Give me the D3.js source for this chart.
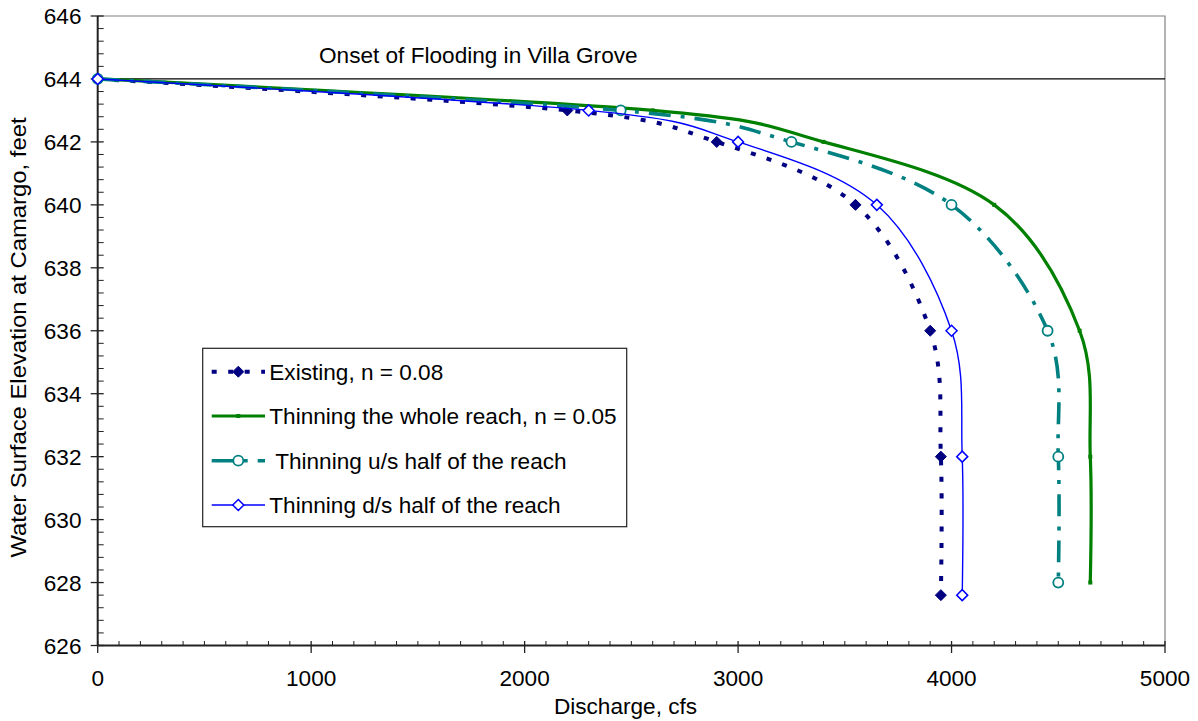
<!DOCTYPE html>
<html>
<head>
<meta charset="utf-8">
<script src="https://cdn.jsdelivr.net/npm/d3@7/dist/d3.min.js"></script>
<style>
  html, body { margin: 0; padding: 0; background: #fff; }
  svg { display: block; font-family: "Liberation Sans", Arial, sans-serif; }
</style>
</head>
<body>
<svg id="chart" width="1198" height="721"></svg>
<script>
// Rating curves: water surface elevation at Camargo (ft) vs. discharge (cfs)
const seriesNames = [
  "Existing, n = 0.08",
  "Thinning the whole reach, n = 0.05",
  " Thinning u/s half of the reach",
  "Thinning d/s half of the reach"
];
const qExisting = [0, 2200, 2900, 3550, 3900, 3950, 3950];
const elevExisting = [644, 643, 642, 640, 636, 632, 627.6];
const qWhole = [0, 2600, 3400, 4200, 4600, 4650, 4650];
const elevWhole = [644, 643, 642, 640, 636, 632, 628];
const qUpstream = [0, 2450, 3250, 4000, 4450, 4500, 4500];
const elevUpstream = [644, 643, 642, 640, 636, 632, 628];
const qDownstream = [0, 2300, 3000, 3650, 4000, 4050, 4050];
const elevDownstream = [644, 643, 642, 640, 636, 632, 627.6];

const floodElevation = 644;
const floodLabel = "Onset of Flooding in Villa Grove";
const xTicks = [0, 1000, 2000, 3000, 4000, 5000];
const yTicks = [626, 628, 630, 632, 634, 636, 638, 640, 642, 644, 646];
const xTitle = "Discharge, cfs";
const yTitle = "Water Surface Elevation at Camargo, feet";

const plotLeft = 97.7, plotRight = 1165, plotTop = 16, plotBottom = 645.5;
const x = d3.scaleLinear().domain([0, 5000]).range([plotLeft, plotRight]);
const y = d3.scaleLinear().domain([626, 646]).range([plotBottom, plotTop]);

const svg = d3.select("#chart");
const font = 22.6;

// plot frame: grey top/right border
svg.append("path")
  .attr("d", `M${plotLeft},${plotTop}H${plotRight}V${plotBottom}`)
  .attr("fill", "none").attr("stroke", "#808080").attr("stroke-width", 1.2);

// flooding threshold
svg.append("line")
  .attr("x1", x(0)).attr("x2", x(5000))
  .attr("y1", y(floodElevation)).attr("y2", y(floodElevation))
  .attr("stroke", "#000").attr("stroke-width", 1.2);
svg.append("text")
  .attr("x", 478.3).attr("y", y(floodElevation) - 16)
  .attr("text-anchor", "middle").attr("font-size", font)
  .text(floodLabel);

// axes
const xMinor = d3.range(0, 5001, 100).filter(v => v % 1000 !== 0);
const yMinor = d3.range(626, 646.01, 0.4).filter(v => Math.abs((v - 626) / 2 - Math.round((v - 626) / 2)) > 0.01);

const axes = svg.append("g").attr("stroke", "#222");
axes.selectAll(".xminor").data(xMinor).join("line")
  .attr("x1", d => x(d)).attr("x2", d => x(d))
  .attr("y1", plotBottom).attr("y2", plotBottom - 4.5).attr("stroke-width", 1);
axes.selectAll(".xmajor").data(xTicks).join("line")
  .attr("x1", d => x(d)).attr("x2", d => x(d))
  .attr("y1", plotBottom - 4.5).attr("y2", plotBottom + 7.5).attr("stroke-width", 1.3);
axes.selectAll(".yminor").data(yMinor).join("line")
  .attr("x1", plotLeft).attr("x2", plotLeft + 6)
  .attr("y1", d => y(d)).attr("y2", d => y(d)).attr("stroke-width", 1);
axes.selectAll(".ymajor").data(yTicks).join("line")
  .attr("x1", plotLeft - 7).attr("x2", plotLeft + 6)
  .attr("y1", d => y(d)).attr("y2", d => y(d)).attr("stroke-width", 1.3);
axes.append("line").attr("x1", plotLeft).attr("x2", plotRight).attr("y1", plotBottom).attr("y2", plotBottom).attr("stroke-width", 2);
axes.append("line").attr("x1", plotLeft).attr("x2", plotLeft).attr("y1", plotTop).attr("y2", plotBottom).attr("stroke-width", 2);

svg.selectAll(".xlab").data(xTicks).join("text")
  .attr("x", d => x(d)).attr("y", 686)
  .attr("text-anchor", "middle").attr("font-size", font).text(d => d);
svg.selectAll(".ylab").data(yTicks).join("text")
  .attr("x", 81.5).attr("y", d => y(d) + 8)
  .attr("text-anchor", "end").attr("font-size", font).text(d => d);

svg.append("text").attr("x", 625.5).attr("y", 714)
  .attr("text-anchor", "middle").attr("font-size", font).text(xTitle);
svg.append("text")
  .attr("transform", "translate(26,337.5) rotate(-90)")
  .attr("text-anchor", "middle").attr("font-size", font)
  .attr("textLength", 440).attr("lengthAdjust", "spacingAndGlyphs")
  .text(yTitle);

// series definitions
const series = [
  { name: seriesNames[0], q: qExisting, e: elevExisting, color: "#000080", width: 4, dash: "5,11.5", marker: "diamondFilled" },
  { name: seriesNames[1], q: qWhole, e: elevWhole, color: "#008000", width: 3.2, dash: null, marker: "square" },
  { name: seriesNames[2], q: qUpstream, e: elevUpstream, color: "#008080", width: 3.6, dash: "22,10,4,10", marker: "circle" },
  { name: seriesNames[3], q: qDownstream, e: elevDownstream, color: "#0000FF", width: 1.4, dash: null, marker: "diamondOpen" }
];

const line = d3.line().curve(d3.curveCardinal.tension(0));

function drawMarker(g, kind, color, cx, cy) {
  if (kind === "diamondFilled") {
    g.append("path").attr("d", `M${cx},${cy - 5.5}L${cx + 5.5},${cy}L${cx},${cy + 5.5}L${cx - 5.5},${cy}Z`)
      .attr("fill", color).attr("stroke", color).attr("stroke-width", 1);
  } else if (kind === "diamondOpen") {
    g.append("path").attr("d", `M${cx},${cy - 5.5}L${cx + 5.5},${cy}L${cx},${cy + 5.5}L${cx - 5.5},${cy}Z`)
      .attr("fill", "#fff").attr("stroke", color).attr("stroke-width", 1.5);
  } else if (kind === "circle") {
    g.append("circle").attr("cx", cx).attr("cy", cy).attr("r", 5)
      .attr("fill", "#fff").attr("stroke", color).attr("stroke-width", 1.8);
  } else if (kind === "square") {
    g.append("rect").attr("x", cx - 2).attr("y", cy - 2).attr("width", 4).attr("height", 4)
      .attr("fill", color);
  }
}

series.forEach(s => {
  const pts = s.q.map((q, i) => [x(q), y(s.e[i])]);
  const g = svg.append("g");
  g.append("path").attr("d", line(pts))
    .attr("fill", "none").attr("stroke", s.color).attr("stroke-width", s.width)
    .attr("stroke-dasharray", s.dash);
  pts.forEach(p => drawMarker(g, s.marker, s.color, p[0], p[1]));
});

// legend
const lg = svg.append("g");
lg.append("rect").attr("x", 202.7).attr("y", 348.3).attr("width", 424).attr("height", 178.4)
  .attr("fill", "#fff").attr("stroke", "#222").attr("stroke-width", 1.2);
const rowY = [371.7, 416, 460.7, 505];
series.forEach((s, i) => {
  const cy = rowY[i];
  lg.append("line").attr("x1", 211.7).attr("x2", 265).attr("y1", cy).attr("y2", cy)
    .attr("stroke", s.color).attr("stroke-width", s.width).attr("stroke-dasharray", s.dash);
  drawMarker(lg, s.marker, s.color, 238.3, cy);
  lg.append("text").attr("x", 269.3).attr("y", cy + 8)
    .attr("font-size", font).style("white-space", "pre").text(s.name);
});
</script>
</body>
</html>
